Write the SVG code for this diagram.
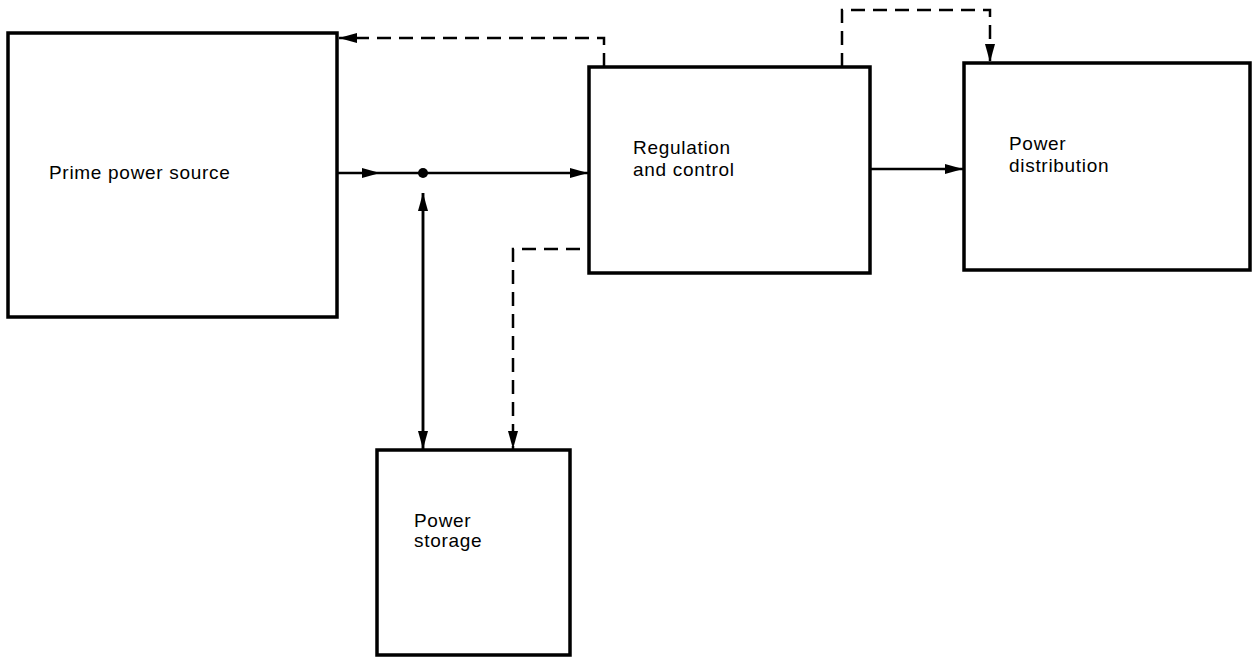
<svg xmlns="http://www.w3.org/2000/svg" width="1260" height="657" viewBox="0 0 1260 657">
<style>
.box{fill:#fff;stroke:#000;stroke-width:3.5}
.ln{fill:none;stroke:#000;stroke-width:2.5}
.dash{fill:none;stroke:#000;stroke-width:2.5;stroke-dasharray:14 8}
.t{font-family:"Liberation Sans",Arial,sans-serif;font-size:19px;letter-spacing:0.7px;fill:#000}
</style>
<defs>
<marker id="ah" viewBox="0 0 18 10" refX="18" refY="5" markerWidth="18" markerHeight="10" markerUnits="userSpaceOnUse" orient="auto">
<path d="M0,0 L18,5 L0,10 Z" fill="#000"/>
</marker>
</defs>
<g id="connectors">
<path class="ln" d="M337,173 L380,173" marker-end="url(#ah)"/>
<path class="ln" d="M380,173 L588,173" marker-end="url(#ah)"/>
<circle cx="423" cy="173" r="5" fill="#000"/>
<path class="ln" d="M423,450 L423,193" marker-end="url(#ah)"/>
<path class="ln" d="M423,193 L423,449" marker-end="url(#ah)"/>
<path class="ln" d="M870,169 L963,169" marker-end="url(#ah)"/>
<path class="dash" d="M604,67 L604,38 L339,38" marker-end="url(#ah)"/>
<path class="dash" d="M842,67 L842,10 L990,10 L990,62" marker-end="url(#ah)"/>
<path class="dash" d="M580,249 L513,249 L513,449" marker-end="url(#ah)"/>
</g>
<g id="prime">
<rect class="box" x="8" y="33" width="329" height="284"/>
<text class="t" x="49" y="179">Prime power source</text>
</g>
<g id="regulation">
<rect class="box" x="589" y="67" width="281" height="206"/>
<text class="t" x="633" y="154">Regulation</text>
<text class="t" x="633" y="176">and control</text>
</g>
<g id="distribution">
<rect class="box" x="964" y="63" width="286" height="207"/>
<text class="t" x="1009" y="150">Power</text>
<text class="t" x="1009" y="172">distribution</text>
</g>
<g id="storage">
<rect class="box" x="377" y="450" width="193" height="205"/>
<text class="t" x="414" y="527">Power</text>
<text class="t" x="414" y="547">storage</text>
</g>
</svg>
